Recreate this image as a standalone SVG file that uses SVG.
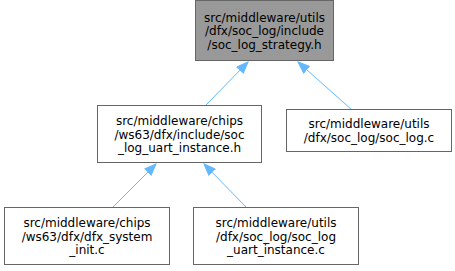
<svg xmlns="http://www.w3.org/2000/svg" width="455" height="271" viewBox="0 0 455 271">
<style>
.box{fill:#ffffff;stroke:#666666;stroke-width:1}
.hl{fill:#999999;stroke:#666666;stroke-width:1}
text{font-family:"DejaVu Sans",sans-serif;font-size:12px;fill:#000000;text-anchor:middle}
.edge{stroke:#63b8ff;stroke-width:1;fill:none;marker-end:url(#arr)}
</style>
<defs>
<marker id="arr" markerUnits="userSpaceOnUse" markerWidth="13" markerHeight="10" viewBox="0 0 13 10" refX="12" refY="5" orient="auto">
<path d="M0.5,0.5 L12,5 L0.5,9.5 z" fill="#63b8ff" stroke="#63b8ff" stroke-width="1"/>
</marker>
</defs>
<g id="edges">
<path class="edge" d="M205,106 L248,62"/>
<path class="edge" d="M352,110 L298,62"/>
<path class="edge" d="M112,208 L156,164"/>
<path class="edge" d="M247,208 L204,164"/>
</g>
<g id="node1">
<rect class="hl" x="195.5" y="0.5" width="138" height="60"/>
<text x="264.5" y="21.5">src/middleware/utils</text>
<text x="264.5" y="35">/dfx/soc_log/include</text>
<text x="264.5" y="48.5">/soc_log_strategy.h</text>
</g>
<g id="node2">
<rect class="box" x="97.5" y="105.5" width="164" height="57"/>
<text x="179.5" y="125">src/middleware/chips</text>
<text x="179.5" y="138.5">/ws63/dfx/include/soc</text>
<text x="179.5" y="152">_log_uart_instance.h</text>
</g>
<g id="node3">
<rect class="box" x="286.5" y="109.5" width="165" height="42"/>
<text x="369" y="128">src/middleware/utils</text>
<text x="369" y="141.5">/dfx/soc_log/soc_log.c</text>
</g>
<g id="node4">
<rect class="box" x="4.5" y="207.5" width="165" height="57"/>
<text x="87" y="227">src/middleware/chips</text>
<text x="87" y="240.5">/ws63/dfx/dfx_system</text>
<text x="87" y="254">_init.c</text>
</g>
<g id="node5">
<rect class="box" x="193.5" y="207.5" width="165" height="57"/>
<text x="276" y="227">src/middleware/utils</text>
<text x="276" y="240.5">/dfx/soc_log/soc_log</text>
<text x="276" y="254">_uart_instance.c</text>
</g>
</svg>
